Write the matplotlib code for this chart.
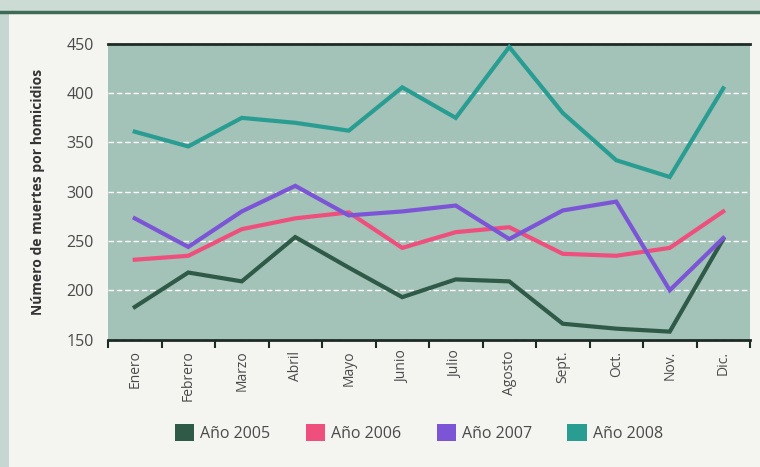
import matplotlib
matplotlib.use("Agg")
import matplotlib.pyplot as plt
from matplotlib.patches import Rectangle
from matplotlib.lines import Line2D

plt.rcParams['font.family'] = ['Open Sans', 'DejaVu Sans']

meses = ["Enero", "Febrero", "Marzo", "Abril", "Mayo", "Junio",
         "Julio", "Agosto", "Sept.", "Oct.", "Nov.", "Dic."]
anio_2005 = [183, 218, 209, 254, 223, 193, 211, 209, 166, 161, 158, 252]
anio_2006 = [231, 235, 262, 273, 279, 243, 259, 264, 237, 235, 243, 280]
anio_2007 = [273, 244, 280, 306, 276, 280, 286, 252, 281, 290, 200, 253]
anio_2008 = [361, 346, 375, 370, 362, 406, 375, 447, 380, 332, 315, 405]
series_labels = ["Año 2005", "Año 2006", "Año 2007", "Año 2008"]
yticks = [150, 200, 250, 300, 350, 400, 450]

colors = ["#2f5a48", "#ee4f7d", "#7b55d6", "#2a9d92"]

fig = plt.figure(figsize=(7.6, 4.67), dpi=100)
fig.patch.set_facecolor("#f4f5f0")

# decorative frame: light strip on the left and top, dark rule under the top strip
fig.add_artist(Rectangle((0, 0), 9 / 760, 1, transform=fig.transFigure,
                         facecolor="#c6d6d3", edgecolor="none", zorder=0))
fig.add_artist(Rectangle((0, 1 - 11 / 467), 1, 11 / 467, transform=fig.transFigure,
                         facecolor="#cddbd5", edgecolor="none", zorder=0))
fig.add_artist(Line2D([0, 1], [1 - 12 / 467, 1 - 12 / 467], transform=fig.transFigure,
                      color="#3d6b55", linewidth=2.5, zorder=1))

ax = fig.add_axes([108 / 760, 1 - 339.5 / 467, 642 / 760, 295.5 / 467])
ax.set_facecolor("#a3c2b8")

x = list(range(len(meses)))
for vals, col in zip([anio_2005, anio_2006, anio_2007, anio_2008], colors):
    ax.plot(x, vals, color=col, linewidth=3.0, solid_joinstyle="miter", zorder=3)

ax.set_xlim(-0.5, len(meses) - 0.5)
ax.set_ylim(150, 450)
ax.set_yticks(yticks)
ax.yaxis.grid(True, color="white", linestyle=(0, (4, 2)), linewidth=1.0)
ax.set_axisbelow(True)

for s in ["left", "right"]:
    ax.spines[s].set_visible(False)
for s in ["top", "bottom"]:
    ax.spines[s].set_color("#1d2b24")
    ax.spines[s].set_linewidth(2)

ax.tick_params(axis="y", length=0, pad=10, labelsize=11.5, labelcolor="#4a4a4a")

# category labels at centres, tick marks at boundaries
ax.set_xticks(x)
ax.set_xticklabels(meses, rotation=90, fontsize=10, color="#4a4a4a")
ax.tick_params(axis="x", which="major", length=0, pad=8)
ax.set_xticks([i - 0.5 for i in range(len(meses) + 1)], minor=True)
ax.tick_params(axis="x", which="minor", length=6, width=1.5, color="#1d2b24", direction="out")

ax.set_ylabel("Número de muertes por homicidios", fontsize=10, fontweight="bold",
              color="#333333", labelpad=16)

handles = [Rectangle((0, 0), 1, 1, facecolor=c, edgecolor="none") for c in colors]
leg = fig.legend(handles, series_labels, loc="center", bbox_to_anchor=(419 / 760, 1 - 433 / 467),
                 ncol=4, frameon=False, fontsize=11.5, handlelength=1.2, handleheight=1.2,
                 handletextpad=0.4, columnspacing=2.2)
for t in leg.get_texts():
    t.set_color("#4a4a4a")

fig.savefig("out.png", dpi=100, facecolor=fig.get_facecolor())
